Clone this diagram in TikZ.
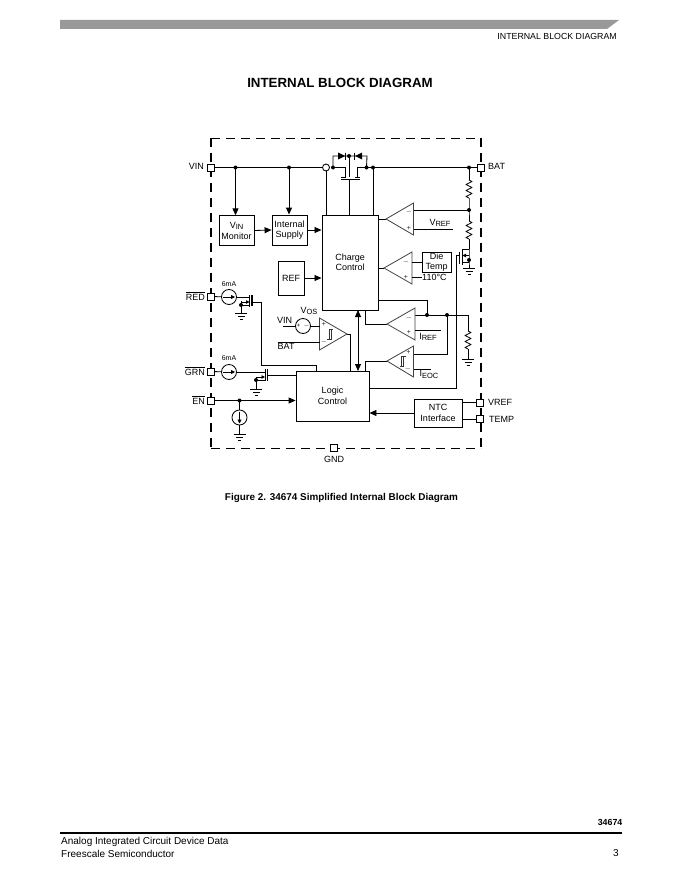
\documentclass[tikz,border=0pt]{standalone}
\usepackage{fontspec}
\setmainfont{Liberation Sans}
\usetikzlibrary{arrows.meta,calc}
\newcommand{\lsub}[1]{\raisebox{-1.8pt}{\fontsize{7.5}{8}\selectfont #1}}
\newcommand{\ovl}[1]{$\overline{\hbox{#1}}$}
\tikzset{
 x=1pt,y=-1pt,
 wire/.style={draw=black,line width=0.85pt},
 arr/.style={wire,-{Triangle[length=7pt,width=6pt]}},
 arrb/.style={wire,{Triangle[length=7pt,width=6pt]}-{Triangle[length=7pt,width=6pt]}},
 box/.style={draw=black,line width=0.85pt,fill=white,inner sep=0pt,align=center,font=\fontsize{9}{10.5}\selectfont},
 pinbox/.style={draw=black,line width=0.85pt,fill=white,minimum size=7pt,inner sep=0pt},
 lab/.style={inner sep=0pt,font=\fontsize{9}{11}\selectfont},
 small/.style={inner sep=0pt,font=\fontsize{7}{8}\selectfont},
 sign/.style={inner sep=0pt,font=\fontsize{7}{8}\selectfont,text=black!85},
 srcnode/.style={circle,draw=black,line width=0.85pt,fill=white,minimum size=15pt,inner sep=0pt},
 dotn/.style={circle,fill=black,minimum size=4pt,inner sep=0pt},
 dashA/.style={line width=1.7pt,dash pattern=on 9pt off 6pt},
 dashB/.style={line width=1pt,dash pattern=on 9pt off 6pt},
 opamp/.style={draw=black!75,line width=0.8pt,fill=white},
}
% ground at named coordinate
\newcommand{\gnd}[1]{\draw[wire] ($(#1)+(-6,0)$)--($(#1)+(6,0)$) ($(#1)+(-3.5,3)$)--($(#1)+(3.5,3)$) ($(#1)+(-1.5,6)$)--($(#1)+(1.5,6)$);}
% vertical resistor between named coordinates #1 #2 (length 18)
\newcommand{\res}[2]{\draw[wire,line join=round] (#1)--($(#1)+(3,1.5)$)--($(#1)+(-3,4.5)$)--($(#1)+(3,7.5)$)--($(#1)+(-3,10.5)$)--($(#1)+(3,13.5)$)--($(#1)+(-3,16.5)$)--(#2);}
% hysteresis symbol
\newcommand{\hys}[1]{\draw[line width=0.7pt,black!80] ($(#1)+(-3,5)$)--($(#1)+(-1,5)$)--($(#1)+(-1,-5)$)--($(#1)+(2,-5)$) ($(#1)+(-2,5)$)--($(#1)+(1,5)$)--($(#1)+(1,-5)$)--($(#1)+(3,-5)$);}
\begin{document}
\begin{tikzpicture}
\useasboundingbox (0,0) rectangle (680,880);
\fill[white] (0,0) rectangle (680,880);
% page furniture
\fill[black!40] (60,20)--(619,20)--(607,29)--(60,29)--cycle;
\node[inner sep=0pt,anchor=east,font=\fontsize{8.8}{11}\selectfont] (hdr) at (617,36.5) {INTERNAL BLOCK DIAGRAM};
\node[inner sep=0pt,font=\fontsize{13.3}{15}\selectfont\bfseries] (title) at (340,83) {INTERNAL BLOCK DIAGRAM};
\node[inner sep=0pt,font=\fontsize{9.9}{12}\selectfont\bfseries] (cap) at (341.5,498) {Figure 2. 34674 Simplified Internal Block Diagram};
\node[inner sep=0pt,anchor=east,font=\fontsize{8.8}{10}\selectfont\bfseries] (pn) at (622.5,822.5) {34674};
\draw[line width=1.2pt] (60,833)--(622,833);
\node[inner sep=0pt,anchor=west,font=\fontsize{10}{12}\selectfont] (f1) at (61,841.5) {Analog Integrated Circuit Device Data};
\node[inner sep=0pt,anchor=west,font=\fontsize{10}{12}\selectfont] (f2) at (61,853.5) {Freescale Semiconductor};
\node[inner sep=0pt,anchor=east,font=\fontsize{10}{12}\selectfont] (pg) at (619,853.5) {3};
% dashed outline
\draw[dashA] (211,138)--(211,448);
\draw[dashA] (481,138)--(481,448);
\draw[dashB] (211,138)--(481,138);
\draw[dashB] (211,448)--(481,448);
% coordinates
\coordinate (jA) at (235.5,167.5);
\coordinate (jB) at (289,167.5);
\coordinate (sw) at (326,167.5);
\coordinate (jC) at (333,167.5);
\coordinate (jD) at (366.5,167.5);
\coordinate (jE) at (373,167.5);
\coordinate (jF) at (469,167.5);
\coordinate (r1a) at (469,180);
\coordinate (r1b) at (469,198);
\coordinate (jG) at (469,210);
\coordinate (r2a) at (469,221);
\coordinate (r2b) at (469,239);
\coordinate (q3d) at (469,249);
\coordinate (q3s) at (469,262);
\coordinate (g3) at (469,268);
\coordinate (jH) at (427,315);
\coordinate (jI) at (447,315);
\coordinate (r3top) at (468,315);
\coordinate (r3a) at (468,331);
\coordinate (r3b) at (468,349);
\coordinate (g4) at (468,359);
\coordinate (g1) at (241,313.5);
\coordinate (g2) at (256,389);
\coordinate (g5) at (239.5,434);
\coordinate (jJ) at (239.5,400.5);
% boxes
\node[box,minimum width=35pt,minimum height=29.5pt] (mon) at (236.5,230.5) {V\lsub{IN}\\[0.5pt]Monitor};
\node[box,minimum width=35pt,minimum height=30pt] (sup) at (289.5,230) {Internal\\Supply};
\node[box,minimum width=56.5pt,minimum height=95pt] (cc) at (350.2,262.5) {Charge\\Control};
\node[box,minimum width=26pt,minimum height=34pt] (ref) at (291,278) {REF};
\node[box,minimum width=73pt,minimum height=50pt] (lc) at (332.5,396) {Logic\\[0.5pt]Control};
\node[box,minimum width=48pt,minimum height=28pt] (ntc) at (438,413) {NTC\\[0.5pt]Interface};
\node[box,minimum width=29pt,minimum height=20pt,font=\fontsize{9}{9.5}\selectfont] (die) at (436.5,262) {Die\\Temp};
% pins
\node[pinbox] (pVIN) at (211,167.5) {};
\node[pinbox] (pBAT) at (480.5,167.5) {};
\node[pinbox] (pRED) at (211,296.5) {};
\node[pinbox] (pGRN) at (211,371.5) {};
\node[pinbox] (pEN) at (211,400.5) {};
\node[pinbox] (pGND) at (334,448) {};
\node[pinbox] (pVREF) at (480,402.5) {};
\node[pinbox] (pTEMP) at (480,419) {};
% pin labels
\node[lab,anchor=east] (tVIN) at (204,166) {VIN};
\node[lab,anchor=west] (tBAT) at (488,166.5) {BAT};
\node[lab,anchor=east] (tRED) at (205,296) {\ovl{RED}};
\node[lab,anchor=east] (tGRN) at (205,371) {\ovl{GRN}};
\node[lab,anchor=east] (tEN) at (205,400) {\ovl{EN}};
\node[lab] (tGND) at (334,459) {GND};
\node[lab,anchor=west] (tVREF) at (488,402) {VREF};
\node[lab,anchor=west] (tTEMP) at (489,419) {TEMP};
% top rail
\draw[wire] (pVIN)--(sw);
\draw[wire] (jC)--(345,167.5)--(345,177);
\draw[wire] (341,177)--(346,177);
\draw[wire] (355,177)--(360,177);
\draw[wire] (357,177)--(357,167.5)--(pBAT);
\draw[wire] (jC)--(333,156)--(367,156)--(jD);
\draw[wire] (349,156)--(349,177);
\draw[line width=1.1pt] (341,179.5)--(360,179.5);
\draw[wire] (349,179.5)--(349,215);
\draw[wire] (jE)--(jE|-cc.north);
\draw[wire,fill=white] (sw) circle (3.5);
\draw[wire] (326,171)--(326,215);
\fill (338,152.5)--(338,159.5)--(345,156)--cycle;
\draw[wire] (345.5,152.5)--(345.5,159.5);
\fill (362,152.5)--(362,159.5)--(355,156)--cycle;
\draw[wire] (354.5,152.5)--(354.5,159.5);
\foreach \p/\n in {jA/da,jB/db,jC/dc,jD/dd,jE/de,jF/df,jG/dg,jH/dh,jI/di,jJ/dj}{\node[dotn] (\n) at (\p) {};}
\node[dotn] (dk) at (349,156) {};
% VIN branches
\draw[arr] (jA)--(jA|-mon.north);
\draw[arr] (jB)--(jB|-sup.north);
\draw[arr] (mon.east)--(sup.west);
\draw[arr] (sup.east)--(sup.east-|cc.west);
\draw[arr] (ref.east)--(ref.east-|cc.west);
% right resistor chain
\draw[wire] (jF)--(r1a); \res{r1a}{r1b}
\draw[wire] (r1b)--(jG)--(r2a); \res{r2a}{r2b}
\draw[wire] (r2b)--(q3d);
% comparator 1
\coordinate (c1) at (386,219);
\draw[wire] (c1)--(c1-|cc.east);
\draw[opamp] (c1)--(413.5,203)--(413.5,235)--cycle;
\draw[wire] (413.5,210)--(jG);
\draw[wire] (413.5,229)--(453,229);
\node[sign] (s1a) at (409,212) {$-$};
\node[sign] (s1b) at (409,228) {+};
\node[lab] (tVR) at (440,223) {V\lsub{REF}};
% comparator 2
\coordinate (c2) at (384,268);
\draw[wire] (c2)--(c2-|cc.east);
\draw[opamp] (c2)--(412,252)--(412,284)--cycle;
\draw[wire] (412,262)--(die.west);
\draw[wire] (412,277)--(422,277);
\node[sign] (s2a) at (406,262) {$-$};
\node[sign] (s2b) at (406,277) {+};
\node[lab,anchor=west] (t110) at (422,277) {110°C};
% Q3 right mosfet
\draw[wire] (q3d)--(462,249)--(462,265);
\draw[wire] (462,262)--(q3s);
\draw[wire] (q3d)--(q3s)--(g3);
\draw[wire,-{Triangle[length=3.5pt,width=3.5pt]}] (469,255.5)--(462.5,255.5);
\node[dotn] (dq3) at (469,260) {};
\draw[line width=1.1pt] (459.5,252)--(459.5,264);
\draw[wire] (459.5,255)--(456,255)--(456,388)--(lc.east|-0,388);
\gnd{g3}
% lower right
\draw[wire] (cc.east|-0,300)--(427,300)--(jH);
\draw[wire] (415,315)--(r3top)--(r3a); \res{r3a}{r3b}
\draw[wire] (r3b)--(g4);
\gnd{g4}
\draw[wire] (jI)--(447,354)--(413.5,354);
% comparator 3
\coordinate (c3) at (387,324);
\draw[wire] (c3)--(365,324)--(365,310);
\draw[opamp] (c3)--(415,308)--(415,340)--cycle;
\draw[wire] (415,330)--(441,330);
\node[sign] (s3a) at (409,318) {$-$};
\node[sign] (s3b) at (409,332) {+};
\node[lab] (tIR) at (428,337) {I\lsub{REF}};
% comparator 4
\coordinate (c4) at (387,361);
\draw[wire] (c4)--(365,361)--(365,371);
\draw[opamp] (c4)--(413.5,346)--(413.5,377)--cycle;
\draw[wire] (413.5,369)--(431,369);
\node[sign] (s4a) at (408.5,352) {+};
\node[sign] (s4b) at (408,369) {$-$};
\coordinate (h4) at (402.5,361.5);
\hys{h4}
\node[lab] (tIE) at (429,374.5) {I\lsub{EOC}};
% bidirectional
\draw[arrb] (358,310)--(358,371);
% comparator 5 with VOS
\coordinate (c5) at (347,334);
\draw[wire] (c5)--(350,334)--(350,371);
\draw[opamp] (c5)--(319.5,318)--(319.5,350)--cycle;
\node[sign] (s5a) at (324,324) {+};
\node[sign] (s5b) at (324,342) {$-$};
\coordinate (h5) at (330,334);
\hys{h5}
\node[srcnode] (vos) at (303,326) {};
\node[inner sep=0pt,font=\fontsize{6}{7}\selectfont] (vs1) at (298.5,326) {+};
\node[inner sep=0pt,font=\fontsize{6}{7}\selectfont] (vs2) at (306.5,326) {$-$};
\draw[wire] (vos.east)--(319.5,326);
\draw[wire] (283,326)--(vos.west);
\draw[wire] (278,342)--(319.5,342);
\node[lab,anchor=west] (tV) at (277,320) {VIN};
\node[lab,anchor=west] (tB) at (277.5,346) {BAT};
\node[lab] (tVO) at (309,311) {V\lsub{OS}};
% RED branch
\node[srcnode] (sR) at (229,297) {};
\draw[wire] (pRED)--(sR);
\draw[wire,-{Triangle[length=4pt,width=4pt]}] (223,297)--(235,297);
\draw[wire] (sR)--(249.5,297);
\draw[wire] (249.5,295)--(249.5,307);
\draw[line width=1.1pt] (252,295)--(252,306);
\draw[wire] (241,301)--(241,313.5);
\draw[wire,-{Triangle[length=3.5pt,width=3.5pt]}] (241,302)--(249.5,302);
\draw[wire] (241,305)--(249.5,305);
\node[dotn] (dR) at (241,305) {};
\gnd{g1}
\draw[wire] (252,302)--(261,302)--(261,365)--(316,365)--(316,371);
\node[small] (t6a) at (229,284) {6mA};
% GRN branch
\node[srcnode] (sG) at (229,372) {};
\draw[wire] (pGRN)--(sG);
\draw[wire,-{Triangle[length=4pt,width=4pt]}] (223,372)--(235,372);
\draw[wire] (sG)--(265,372);
\draw[wire] (265,369)--(265,381);
\draw[line width=1.1pt] (267.5,369)--(267.5,381);
\draw[wire] (256,377)--(g2);
\draw[wire,-{Triangle[length=3.5pt,width=3.5pt]}] (256,377)--(265,377);
\draw[wire] (256,380)--(265,380);
\node[dotn] (dG) at (256,380) {};
\gnd{g2}
\draw[wire] (267.5,375)--(lc.west|-0,375);
\node[small] (t6b) at (229,358) {6mA};
% EN branch
\draw[arr] (pEN)--(pEN-|lc.west);
\node[srcnode] (sE) at (239.5,417.5) {};
\draw[wire] (jJ)--(sE);
\draw[wire] (sE)--(g5);
\draw[wire,-{Triangle[length=4pt,width=4pt]}] (239.5,411.5)--(239.5,423.5);
\gnd{g5}
% NTC
\draw[arr] (ntc.west)--(ntc.west-|lc.east);
\draw[wire] (ntc.east|-pVREF)--(pVREF);
\draw[wire] (ntc.east|-pTEMP)--(pTEMP);
\end{tikzpicture}
\end{document}
